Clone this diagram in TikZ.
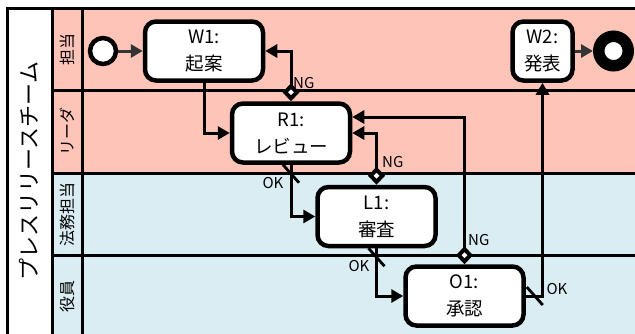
\documentclass[tikz,border=0pt]{standalone}
\usepackage{fontspec}
\setmainfont{Noto Sans CJK JP}
\usepackage{xcolor}
\usepackage{tikz}
\usetikzlibrary{
	arrows.meta,
	decorations.markings,
	positioning
}
\tikzstyle{every picture}+=[>={Triangle[length=12pt,width=13pt]}]
\definecolor{lanered}{RGB}{255,196,184}
\definecolor{laneblue}{RGB}{218,237,243}
\definecolor{startgray}{RGB}{51,51,51}

\begin{document}
\begin{tikzpicture}[x=1pt, y=-1pt,
		task/.style={draw, line width=4.5pt, rounded corners=11pt, fill=white, align=center,
			minimum width=118pt, minimum height=59pt, font=\fontsize{18.5}{27}\selectfont},
		flow/.style={->, line width=3pt},
		ngflow/.style={flow, {Diamond[length=18pt,width=17pt,fill=white,line width=4pt]}->},
		okflow/.style={flow, postaction={decorate, decoration={markings,
			mark=at position 9pt with {\pgftransformresetnontranslations
				\draw[line width=2.8pt, -] (-8pt,9pt) -- (8pt,-9pt);}}}},
		grayflow/.style={->, line width=3pt, startgray},
		lbl/.style={font=\fontsize{15}{15}\selectfont, inner sep=0pt},
		lanelbl/.style={font=\fontsize{16}{16}\selectfont, rotate=90},
		frame/.style={line width=3pt}
	]

	\useasboundingbox (0,0) rectangle (635,333);
	\clip (0,0) rectangle (635,333);

	% lanes
	\fill[lanered] (52,8) rectangle (640,173);
	\fill[laneblue] (52,173) rectangle (640,340);
	\draw[frame] (640,8) -- (7,8) -- (7,340);
	\draw[frame] (52,8) -- (52,340);
	\draw[frame] (82,8) -- (82,340);
	\foreach \y in {90,173,255} {
		\draw[frame] (52,\y) -- (640,\y);
	}

	\node[font=\fontsize{22}{22}\selectfont, rotate=90] (pool) at (29,171) {プレスリリースチーム};
	\foreach \name/\y [count=\k] in {担当/49, リーダ/131.5, 法務担当/214, 役員/296} {
		\node[lanelbl] (lane\k) at (67,\y) {\name};
	}

	% events and tasks
	\node[draw, circle, line width=4.5pt, minimum size=26pt, inner sep=0pt, fill=white] (start) at (103,51) {};
	\node[task] (W1) at (204,51) {W1:\\起案};
	\node[task] (R1) at (291,133) {R1:\\レビュー};
	\node[task] (L1) at (376.5,216.5) {L1:\\審査};
	\node[task] (O1) at (464.5,296) {O1:\\承認};
	\node[task, minimum width=60pt] (W2) at (542.5,51) {W2:\\発表};
	\node[draw, circle, line width=11.5pt, minimum size=29.5pt, inner sep=0pt, fill=white] (end) at (613.5,51) {};

	% flows
	\draw[grayflow] (start) -- (W1);
	\draw[flow] (W1.south) |- (R1.west);
	\draw[ngflow] (R1.north) |- (W1.east);
	\draw[okflow] (R1.south) |- (L1.west);
	\draw[ngflow] (L1.north) |- (R1.east);
	\draw[okflow] (L1.south) |- (O1.west);
	\draw[ngflow] (O1.north) |- ([yshift=16pt]R1.east);
	\draw[okflow] (O1.east) -| (W2.south);
	\draw[grayflow] (W2) -- (end);

	\node[lbl, anchor=west] (ng1) at (293,83) {NG};
	\node[lbl, anchor=west] (ng2) at (382,162) {NG};
	\node[lbl, anchor=west] (ng3) at (468,240) {NG};
	\node[lbl] (ok1) at (273,183) {OK};
	\node[lbl] (ok2) at (359,266) {OK};
	\node[lbl] (ok3) at (557,289) {OK};

\end{tikzpicture}
\end{document}
